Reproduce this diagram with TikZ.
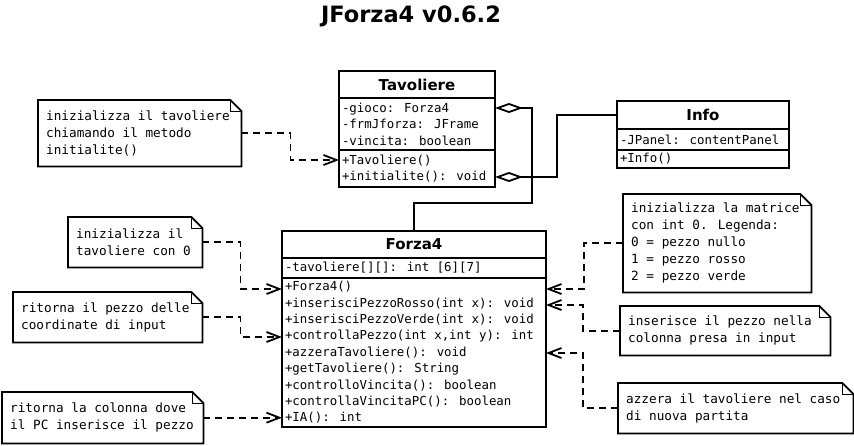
\documentclass[tikz,border=0pt]{standalone}
\usepackage{fontspec}
\usetikzlibrary{positioning,calc,arrows.meta}
\newfontfamily\umlmono{DejaVu Sans Mono}
\newfontfamily\umlsans{DejaVu Sans}
\tikzset{
	classhead/.style={draw, line width=1.8pt, inner sep=0pt, outer sep=0pt,
		font=\umlsans\fontsize{15}{18}\selectfont\bfseries},
	classpart/.style={draw, line width=1.8pt, inner xsep=3pt, inner ysep=0pt, outer sep=0pt, align=flush left,
		font=\umlmono\fontsize{12.4}{16.4}\selectfont},
	notebox/.style={anchor=north west, align=flush left, inner xsep=8pt, inner ysep=0pt,
		font=\umlmono\fontsize{12.7}{17}\selectfont,
		append after command={\pgfextra{
			\draw[line width=1.8pt] (\tikzlastnode.north west) -- ([xshift=-11pt]\tikzlastnode.north east)
				-- ([yshift=-11pt]\tikzlastnode.north east) -- (\tikzlastnode.south east)
				-- (\tikzlastnode.south west) -- cycle;
			\draw[line width=1pt] ([xshift=-11pt]\tikzlastnode.north east) |- ([yshift=-11pt]\tikzlastnode.north east);
		}}},
	noteline/.style={line width=1.8pt, dash pattern=on 7pt off 5pt,
		-{Straight Barb[length=13pt,width=10pt]}},
	aggline/.style={line width=1.8pt, -{Diamond[open,length=28pt,width=10pt]}}
}
\begin{document}
\begin{tikzpicture}[x=1pt, y=-1pt]
			\useasboundingbox (0,0) rectangle (854,445);
			\node[anchor=base, font=\umlsans\fontsize{22.5}{27}\selectfont\bfseries] (title) at (411,22){JForza4 v0.6.2};

			%%draw the classes
			\node[classhead, anchor=north west, minimum width=156pt, minimum height=27pt] (tavHead) at (339,71){Tavoliere};
			\node[classpart, text width=150pt, minimum height=52pt, below=0pt of tavHead] (tavAttr){-gioco: Forza4\\-frmJforza: JFrame\\-vincita: boolean};
			\node[classpart, text width=150pt, minimum height=37pt, below=0pt of tavAttr] (tavMeth){+Tavoliere()\\+initialite(): void};

			\node[classhead, anchor=north west, minimum width=172pt, minimum height=28pt] (infoHead) at (617,101){Info};
			\node[classpart, text width=166pt, minimum height=21pt, below=0pt of infoHead] (infoAttr){-JPanel: contentPanel};
			\node[classpart, text width=166pt, minimum height=18pt, below=0pt of infoAttr] (infoMeth){+Info()};

			\node[classhead, anchor=north west, minimum width=264pt, minimum height=27pt] (forHead) at (282,231){Forza4};
			\node[classpart, text width=258pt, minimum height=20pt, below=0pt of forHead] (forAttr){-tavoliere[][]: int [6][7]};
			\node[classpart, text width=258pt, minimum height=149pt, below=0pt of forAttr] (forMeth){+Forza4()\\+inserisciPezzoRosso(int x): void\\+inserisciPezzoVerde(int x): void\\+controllaPezzo(int x,int y): int\\+azzeraTavoliere(): void\\+getTavoliere(): String\\+controlloVincita(): boolean\\+controllaVincitaPC(): boolean\\+IA(): int};

			%%rows the lines go to
			\coordinate (gioco) at ($(tavAttr.north east)+(0,10)$);
			\coordinate (initRow) at ($(tavMeth.north east)+(0,27)$);
			\coordinate (tavRow) at ($(tavMeth.north west)+(0,10)$);
			\coordinate (forzaRow) at ($(forMeth.north west)+(0,11)$);
			\coordinate (pezzoRow) at ($(forMeth.north west)+(0,59)$);
			\coordinate (matrRow) at ($(forMeth.north east)+(0,11)$);
			\coordinate (rossoRow) at ($(forMeth.north east)+(0,27)$);
			\coordinate (azzRow) at ($(forMeth.north east)+(0,75)$);

			%%draw the notes
			\node[notebox, text width=187pt, minimum height=66pt] (tavNote) at (38,100){inizializza il tavoliere\\chiamando il metodo\\initialite()};
			\node[notebox, text width=118pt, minimum height=50pt] (zeroNote) at (68,217){inizializza il\\tavoliere con 0};
			\node[notebox, text width=173pt, minimum height=50pt] (pezzoNote) at (13,292){ritorna il pezzo delle\\coordinate di input};
			\node[notebox, text width=185pt, minimum height=51pt] (iaNote) at (2,392){ritorna la colonna dove\\il PC inserisce il pezzo};
			\node[notebox, text width=172pt, minimum height=98pt] (matrNote) at (623,194){inizializza la matrice\\con int 0. Legenda:\\0 = pezzo nullo\\1 = pezzo rosso\\2 = pezzo verde};
			\node[notebox, text width=194pt, minimum height=49pt] (insNote) at (620,306){inserisce il pezzo nella\\colonna presa in input};
			\node[notebox, text width=219pt, minimum height=50pt] (azzNote) at (618,383){azzera il tavoliere nel caso\\di nuova partita};

			%%draw the note lines
			\draw[noteline] (tavNote.east) -- ++(49,0) |- (tavRow);
			\draw[noteline] (zeroNote.east) -- ++(38,0) |- (forzaRow);
			\draw[noteline] (pezzoNote.east) -- ++(38,0) |- (pezzoRow);
			\draw[noteline] (iaNote.east) -- (iaNote.east -| forMeth.west);
			\draw[noteline] (matrNote.west) -- ++(-39,0) |- (matrRow);
			\draw[noteline] (insNote.west) -- ++(-37,0) |- (rossoRow);
			\draw[noteline] (azzNote.west) -- ++(-35,0) |- (azzRow);

			%%draw the aggregations
			\draw[aggline] (forHead.north) -- ++(0,-28) -| ($(gioco)+(37,0)$) -- (gioco);
			\draw[aggline] (infoHead.west) -- ++(-60,0) |- (initRow);
\end{tikzpicture}
\end{document}
